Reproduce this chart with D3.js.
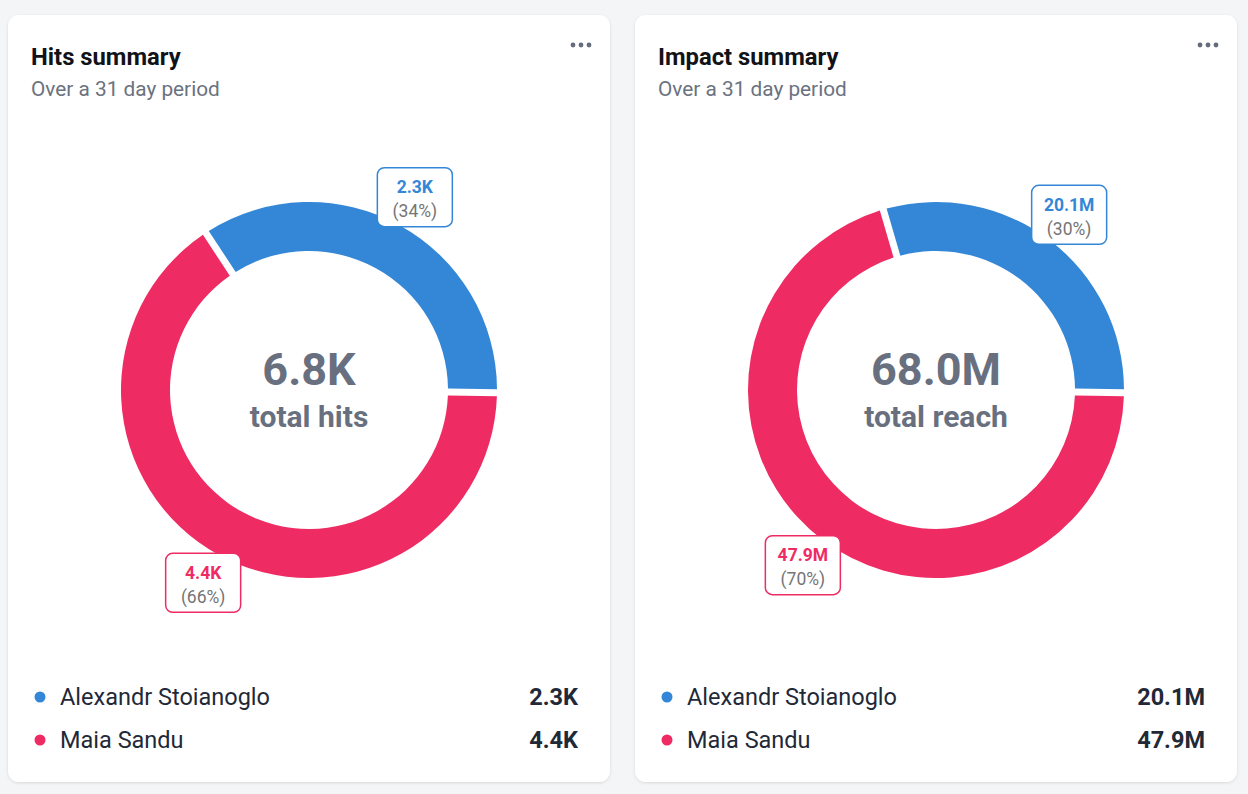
<!DOCTYPE html>
<html><head><meta charset="utf-8">
<script src="https://cdn.jsdelivr.net/npm/d3@7"></script>
<style>
html,body{margin:0;padding:0;background:#f4f5f7;}
svg{display:block;font-family:Roboto,"Noto Sans",sans-serif;}
</style></head>
<body>
<svg id="chart" width="1248" height="794"></svg>
<script>
const candidates = ["Alexandr Stoianoglo", "Maia Sandu"];
const colors = ["#3487d6", "#ee2c63"];
const hitsValues = [2320, 4440];
const reachValues = [20.1e6, 47.9e6];
const panelTitles = ["Hits summary", "Impact summary"];
const panelSubtitles = ["Over a 31 day period", "Over a 31 day period"];
const centerLabels = ["total hits", "total reach"];

const panels = [
  {title: panelTitles[0], sub: panelSubtitles[0], values: hitsValues, center: centerLabels[0], x: 8},
  {title: panelTitles[1], sub: panelSubtitles[1], values: reachValues, center: centerLabels[1], x: 635}
];

function fmt(v){
  if (v >= 1e6) return (v/1e6).toFixed(1) + "M";
  return (v/1e3).toFixed(1) + "K";
}

const svg = d3.select("#chart");
const defs = svg.append("defs");
const f = defs.append("filter").attr("id","shadow").attr("x","-5%").attr("y","-5%").attr("width","110%").attr("height","110%");
f.append("feDropShadow").attr("dx",0).attr("dy",1).attr("stdDeviation",1.5).attr("flood-color","#000").attr("flood-opacity",0.12);

const cardW = 602, cardH = 767, cardY = 15;
const outerR = 188, innerR = 139;
const startA = Math.PI/2 + 0.014;

panels.forEach(p => {
  const g = svg.append("g").attr("transform", `translate(${p.x},${cardY})`);
  g.append("rect").attr("width", cardW).attr("height", cardH).attr("rx", 11)
    .attr("fill", "#fff").attr("filter", "url(#shadow)");

  g.append("text").attr("x", 23).attr("y", 50).text(p.title)
    .attr("font-size", 23.8).attr("font-weight", 700).attr("fill", "#111318");
  g.append("text").attr("x", 23).attr("y", 81).text(p.sub)
    .attr("font-size", 20.8).attr("fill", "#6b7280");

  // menu dots
  g.selectAll("circle.dot").data([0,1,2]).enter().append("circle")
    .attr("cx", d => 565 + d*8).attr("cy", 30).attr("r", 2.4).attr("fill", "#646c7c");

  const cx = 301, cy = 375;
  const dg = g.append("g").attr("transform", `translate(${cx},${cy})`);
  const total = d3.sum(p.values);
  const items = p.values.map((v,i) => ({v, i, name: candidates[i], color: colors[i]}));
  const pie = d3.pie().value(d => d.v).sort(null)
    .startAngle(startA).endAngle(startA + 2*Math.PI).padAngle(0.03);
  const arcs = pie(items.slice().reverse());
  const arc = d3.arc().innerRadius(innerR).outerRadius(outerR);
  dg.selectAll("path").data(arcs).enter().append("path")
    .attr("d", arc).attr("fill", d => d.data.color);

  dg.append("text").attr("y", -5).attr("text-anchor","middle").text(fmt(total))
    .attr("font-size", 45).attr("font-weight", 700).attr("fill", "#687080");
  dg.append("text").attr("y", 37).attr("text-anchor","middle").text(p.center)
    .attr("font-size", 30).attr("font-weight", 700).attr("fill", "#687080");

  // labels
  const labelR = 220;
  arcs.forEach(a => {
    const mid = (a.startAngle + a.endAngle)/2;
    const lx = labelR*Math.sin(mid), ly = -labelR*Math.cos(mid);
    const lg = dg.append("g").attr("transform", `translate(${lx},${ly})`);
    const w = 75, h = 59;
    lg.append("rect").attr("x", -w/2).attr("y", -h/2).attr("width", w).attr("height", h).attr("rx", 7)
      .attr("fill", "#fff").attr("stroke", a.data.color).attr("stroke-width", 1.5);
    lg.append("text").attr("y", -4).attr("text-anchor","middle").text(fmt(a.data.v))
      .attr("font-size", 17.5).attr("font-weight", 700).attr("fill", a.data.color);
    lg.append("text").attr("y", 20).attr("text-anchor","middle").text(`(${Math.round(a.data.v/total*100)}%)`)
      .attr("font-size", 17.5).attr("fill", "#757575");
  });

  // legend
  const leg = g.append("g");
  items.forEach((d, k) => {
    const y = 682 + k*43;
    leg.append("circle").attr("cx", 32).attr("cy", y).attr("r", 5.5).attr("fill", d.color);
    leg.append("text").attr("x", 52).attr("y", y + 8).text(d.name)
      .attr("font-size", 23.5).attr("fill", "#1f2937");
    leg.append("text").attr("x", 570).attr("y", y + 8).attr("text-anchor","end").text(fmt(d.v))
      .attr("font-size", 23.5).attr("font-weight", 700).attr("fill", "#1f2937");
  });
});
</script>
</body></html>
